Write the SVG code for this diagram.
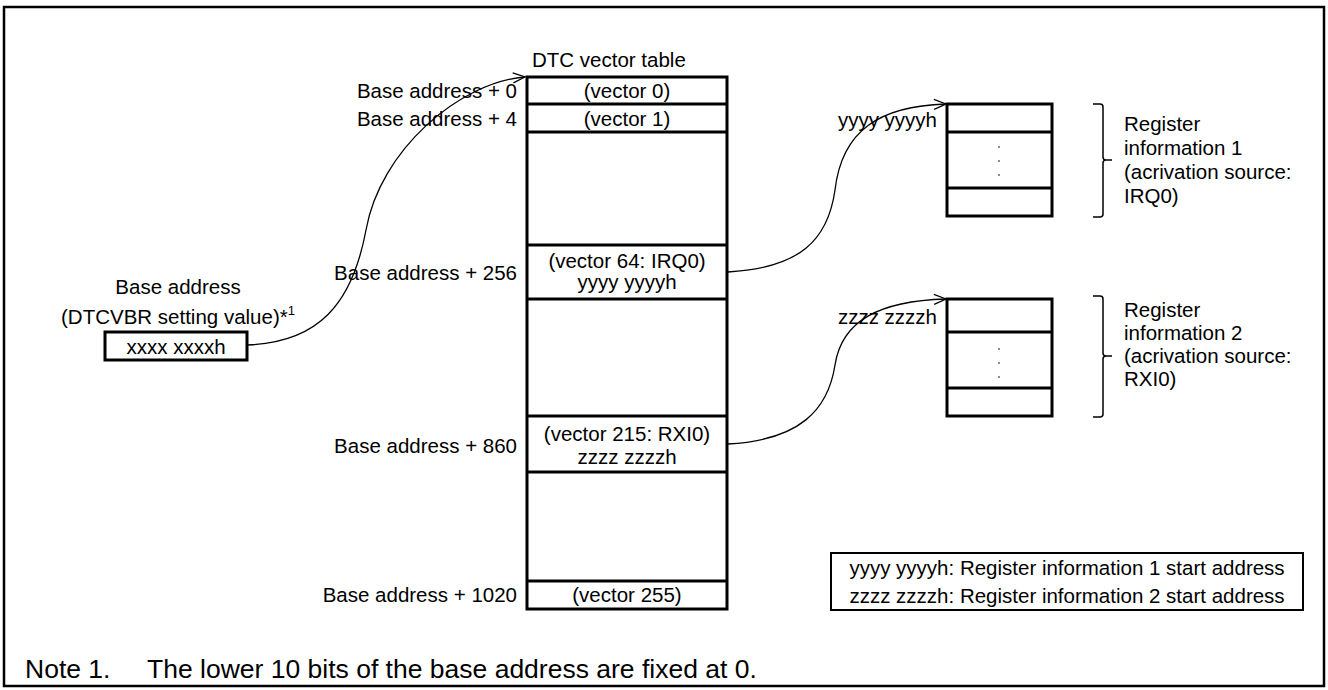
<svg xmlns="http://www.w3.org/2000/svg" width="1328" height="690" viewBox="0 0 1328 690">
<defs>
<marker id="arr" markerUnits="userSpaceOnUse" markerWidth="16" markerHeight="12" viewBox="-13 -6 15 12" refX="0" refY="0" orient="auto">
<path d="M-12,-5 L0,0 L-12,5" fill="none" stroke="#000" stroke-width="1.3"/>
</marker>
</defs>
<style>
text{font-family:"Liberation Sans",Arial,sans-serif;font-size:20.5px;fill:#000}
.c{text-anchor:middle}
.r{text-anchor:end}
.box{fill:#fff;stroke:#000;stroke-width:3}
.ln{stroke:#000;stroke-width:3;fill:none}
.con{fill:none;stroke:#000;stroke-width:1.3}
.br{fill:none;stroke:#000;stroke-width:1.5}
.dot{fill:#555}
.note{font-size:26.5px}
</style>
<rect x="4" y="7" width="1320" height="679" fill="#fff" stroke="#000" stroke-width="2.5"/>

<g id="vector-table">
<text x="532" y="67">DTC vector table</text>
<rect class="box" x="527" y="77" width="200" height="532"/>
<line class="ln" x1="527" y1="104" x2="727" y2="104"/>
<line class="ln" x1="527" y1="132" x2="727" y2="132"/>
<line class="ln" x1="527" y1="245" x2="727" y2="245"/>
<line class="ln" x1="527" y1="299" x2="727" y2="299"/>
<line class="ln" x1="527" y1="416" x2="727" y2="416"/>
<line class="ln" x1="527" y1="472" x2="727" y2="472"/>
<line class="ln" x1="527" y1="581" x2="727" y2="581"/>
<text class="c" x="627" y="98">(vector 0)</text>
<text class="c" x="627" y="126">(vector 1)</text>
<text class="c" x="627" y="268">(vector 64: IRQ0)</text>
<text class="c" x="627" y="289">yyyy yyyyh</text>
<text class="c" x="627" y="441">(vector 215: RXI0)</text>
<text class="c" x="627" y="464">zzzz zzzzh</text>
<text class="c" x="627" y="602">(vector 255)</text>
<text class="r" x="517" y="98">Base address + 0</text>
<text class="r" x="517" y="126">Base address + 4</text>
<text class="r" x="517" y="280">Base address + 256</text>
<text class="r" x="517" y="453">Base address + 860</text>
<text class="r" x="517" y="602">Base address + 1020</text>
</g>

<g id="base-address">
<text class="c" x="178" y="294">Base address</text>
<text class="c" x="178" y="324">(DTCVBR setting value)*<tspan font-size="13" dy="-9">1</tspan></text>
<rect class="box" x="105" y="332" width="142" height="28"/>
<text class="c" x="176" y="354">xxxx xxxxh</text>
</g>

<g id="register-info-1">
<rect class="box" x="947" y="104" width="105" height="112"/>
<line class="ln" x1="947" y1="132" x2="1052" y2="132"/>
<line class="ln" x1="947" y1="188" x2="1052" y2="188"/>
<circle class="dot" cx="999" cy="147" r="0.9"/>
<circle class="dot" cx="999" cy="161" r="0.9"/>
<circle class="dot" cx="999" cy="175" r="0.9"/>
<text class="r" x="937" y="127">yyyy yyyyh</text>
<path class="br" d="M1093,104 H1100 Q1103,104 1103,107 V157 Q1103,160 1106,160 H1112 M1106,160 Q1103,160 1103,163 V214 Q1103,217 1100,217 H1093"/>
<text x="1124" y="131">Register</text>
<text x="1124" y="155">information 1</text>
<text x="1124" y="179">(acrivation source:</text>
<text x="1124" y="203">IRQ0)</text>
</g>

<g id="register-info-2">
<rect class="box" x="947" y="299" width="105" height="117"/>
<line class="ln" x1="947" y1="332" x2="1052" y2="332"/>
<line class="ln" x1="947" y1="388" x2="1052" y2="388"/>
<circle class="dot" cx="999" cy="349" r="0.9"/>
<circle class="dot" cx="999" cy="363" r="0.9"/>
<circle class="dot" cx="999" cy="377" r="0.9"/>
<text class="r" x="937" y="324">zzzz zzzzh</text>
<path class="br" d="M1093,296 H1100 Q1103,296 1103,299 V353 Q1103,356 1106,356 H1112 M1106,356 Q1103,356 1103,359 V414 Q1103,417 1100,417 H1093"/>
<text x="1124" y="317">Register</text>
<text x="1124" y="340">information 2</text>
<text x="1124" y="363">(acrivation source:</text>
<text x="1124" y="386">RXI0)</text>
</g>

<g id="legend">
<rect x="831" y="553" width="472" height="57" fill="#fff" stroke="#000" stroke-width="2"/>
<text class="c" x="1067" y="575">yyyy yyyyh: Register information 1 start address</text>
<text class="c" x="1067" y="603">zzzz zzzzh: Register information 2 start address</text>
</g>

<g id="note">
<text class="note" x="25" y="678">Note 1.</text>
<text class="note" x="147" y="678">The lower 10 bits of the base address are fixed at 0.</text>
</g>

<g id="connectors">
<path class="con" d="M248,345 C318,342 352,305 366,230 C380,150 460,82 525,77" marker-end="url(#arr)"/>
<path class="con" d="M728,272 C800,268 828,240 835,190 C842,130 880,106 946,104" marker-end="url(#arr)"/>
<path class="con" d="M728,444 C800,440 828,410 835,365 C842,320 880,301 946,299" marker-end="url(#arr)"/>
</g>
</svg>
